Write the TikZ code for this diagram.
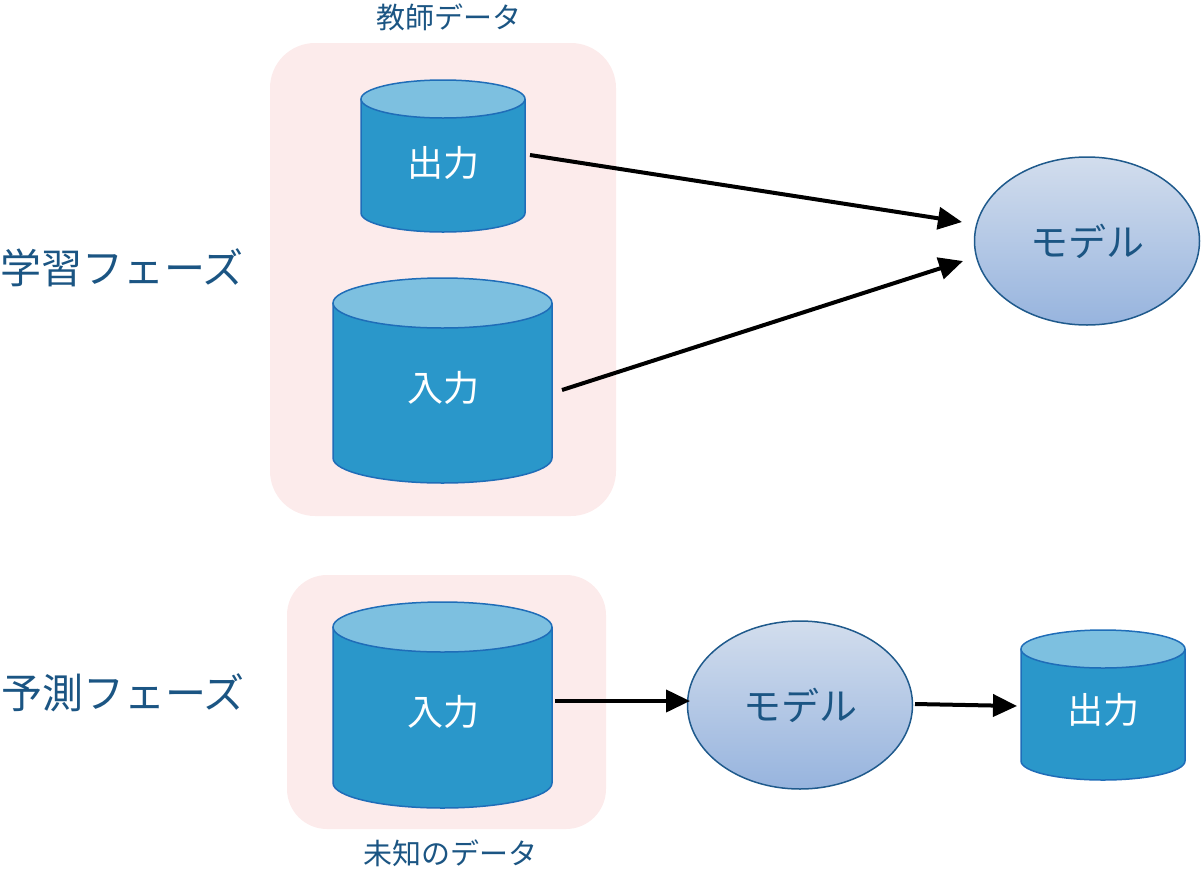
\documentclass[tikz,border=0pt]{standalone}
\usepackage{fontspec}
\setmainfont{Noto Sans CJK JP}
\usetikzlibrary{arrows.meta,shapes.geometric,calc}
\definecolor{pinkbg}{HTML}{FCEBEB}
\definecolor{cylbody}{HTML}{2A97CA}
\definecolor{cyltop}{HTML}{7DC0E0}
\definecolor{cyledge}{HTML}{1F6DB8}
\definecolor{txtblue}{HTML}{1B5583}
\definecolor{mtop}{HTML}{D2DDED}
\definecolor{mbot}{HTML}{97B4DE}
\definecolor{medge}{HTML}{1F5A8C}
\tikzset{
  pinkbox/.style={fill=pinkbg, inner sep=0, draw=none},
  cyltext/.style={text=white, font=\fontsize{36}{42}\selectfont, inner sep=0},
  model/.style={ellipse, draw=medge, line width=1.5pt, top color=mtop, bottom color=mbot,
    minimum width=225, minimum height=168, inner sep=0, text=txtblue, font=\fontsize{38}{45}\selectfont},
  phase/.style={text=txtblue, font=\fontsize{41}{48}\selectfont, inner sep=0},
  caption/.style={text=txtblue, font=\fontsize{29}{34}\selectfont, inner sep=0},
  arr/.style={line width=4pt, -{Triangle[length=24pt,width=22pt]}}
}
% name, cx, ytop, ybot, rx, ry
\newcommand\dbcyl[6]{%
  \fill[cylbody] (#2-#5,#3) -- (#2-#5,#4) arc[start angle=180,end angle=0,x radius=#5,y radius=#6] -- (#2+#5,#3) -- cycle;
  \draw[cyledge, line width=1.5pt] (#2-#5,#3) -- (#2-#5,#4) arc[start angle=180,end angle=0,x radius=#5,y radius=#6] -- (#2+#5,#3);
  \filldraw[fill=cyltop, draw=cyledge, line width=1.5pt] (#2,#3) ellipse[x radius=#5, y radius=#6];
}
\begin{document}
\begin{tikzpicture}[x=1pt,y=-1pt]
\useasboundingbox (0,0) rectangle (1202,871);
% background boxes
\node[pinkbox, rounded corners=45, minimum width=346, minimum height=473] (box1) at (443,279.5) {};
\node[pinkbox, rounded corners=40, minimum width=319, minimum height=254] (box2) at (446.5,702) {};
% cylinders
\dbcyl{out1}{443}{99}{213}{82}{19}
\node[cyltext] (out1) at (443,163) {出力};
\dbcyl{in1}{442.5}{303}{458}{109.5}{25}
\node[cyltext] (in1) at (443,388) {入力};
\dbcyl{in2}{442.5}{627}{783}{109.5}{25}
\node[cyltext] (in2) at (443,712) {入力};
\dbcyl{out2}{1103}{649}{761}{82}{19}
\node[cyltext] (out2) at (1103,710) {出力};
% models
\node[model] (model1) at (1087,241) {モデル};
\node[model] (model2) at (800,705) {モデル};
% labels
\node[caption] (lab1) at (449,17) {教師データ};
\node[caption] (lab2) at (450,853) {未知のデータ};
\node[phase] (ph1) at (122,268) {学習フェーズ};
\node[phase] (ph2) at (123,693) {予測フェーズ};
% connector end points
\coordinate (a1s) at (530,155);
\coordinate (a1e) at (962,222);
\coordinate (a2s) at (562,390);
\coordinate (a2e) at (963,261);
\coordinate (a3s) at (555,701);
\coordinate (a3e) at (690,701);
\coordinate (a4s) at (915,704);
\coordinate (a4e) at (1017,706);
\draw[arr] (a1s) -- (a1e);
\draw[arr] (a2s) -- (a2e);
\draw[arr] (a3s) -- (a3e);
\draw[arr] (a4s) -- (a4e);
\end{tikzpicture}
\end{document}
